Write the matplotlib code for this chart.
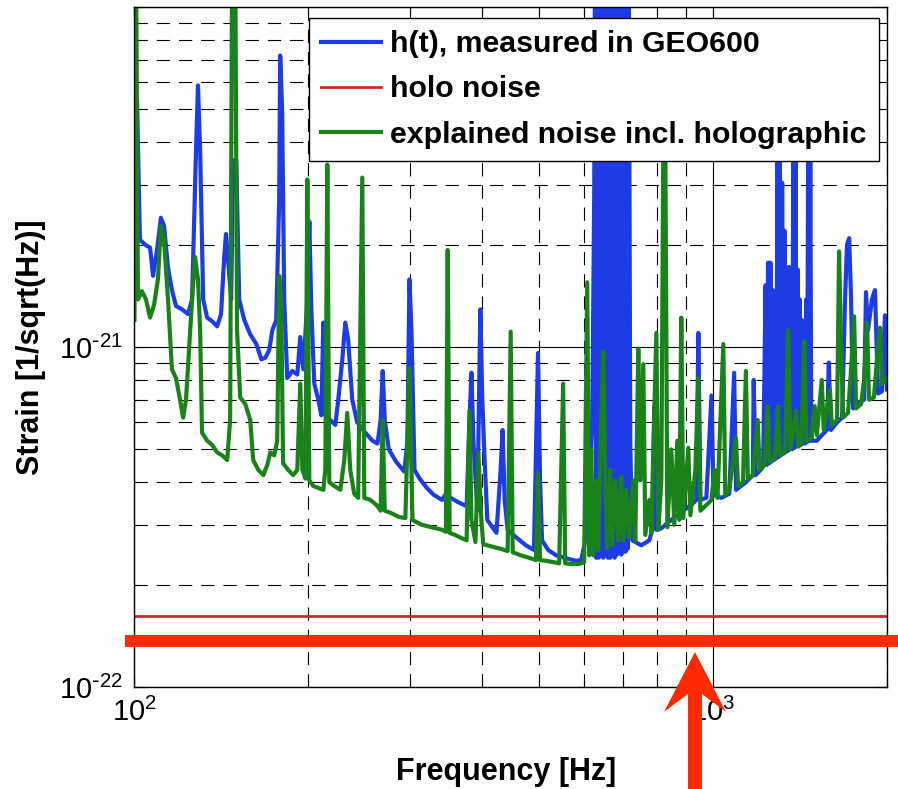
import matplotlib
matplotlib.use("Agg")
import matplotlib.pyplot as plt
from matplotlib.patches import Polygon, Rectangle
from matplotlib.ticker import LogLocator, NullFormatter

# strain values are in units of 1e-22 / sqrt(Hz), frequencies in Hz
STRAIN_UNIT = 1e-22

# h(t), measured in GEO600
blue_freq = [
    100.2, 101.2, 102.4, 104.5, 106.6, 107.9, 109.6, 111.3, 112.7, 114.5,
    116.3, 118.2, 121.1, 124.0, 126.0, 128.0, 129.0, 130.1, 131.7, 133.8,
    136.5, 139.2, 141.4, 143.1, 144.2, 145.4, 147.2, 148.4, 150.2, 152.0,
    155.1, 158.8, 162.7, 166.0, 168.6, 171.3, 173.4, 176.1, 178.2, 178.9,
    180.3, 181.8, 184.0, 187.7, 191.5, 193.8, 196.2, 199.3, 200.9, 202.5,
    204.9, 208.2, 210.7, 212.4, 214.1, 218.4, 222.8, 225.4, 229.1, 231.8,
    234.5, 238.3, 243.1, 251.0, 258.2, 263.5, 266.8, 269.0, 271.2, 275.6,
    283.7, 293.2, 296.8, 299.2, 301.6, 305.3, 311.6, 320.6, 329.8, 340.7,
    345.9, 352.5, 362.8, 375.6, 380.0, 382.9, 385.9, 392.0, 396.7, 399.8,
    403.0, 407.9, 416.1, 423.0, 430.0, 433.4, 437.0, 442.2, 456.8, 475.5,
    491.0, 495.0, 499.0, 503.1, 507.1, 519.5, 536.3, 558.2, 580.8, 592.6,
    602.1, 611.8, 619.1, 624.1,
    626, 629, 632, 635, 638, 641, 644, 647, 650, 653, 656, 659, 662, 665,
    668, 671, 674, 677, 680, 683, 686, 689, 692, 695, 698, 701, 704, 707,
    710, 713, 716,
    720.3, 726.1, 752.6, 777.0, 786.4, 792.7, 799.1, 815.1, 848.1, 882.4,
    918.5, 937.0, 944.4, 952.0, 975.0, 995.0, 1003, 1035, 1068, 1089,
    1097, 1141, 1173, 1177, 1186, 1210,
    1222, 1228, 1234, 1240, 1246, 1252, 1258, 1264, 1270, 1276,
    1282, 1288, 1294, 1300, 1306, 1312, 1318, 1324, 1330, 1336,
    1342, 1348, 1354, 1360, 1366, 1372, 1378, 1384, 1390, 1396,
    1402, 1408, 1414, 1420, 1426, 1432, 1438, 1444, 1450, 1456,
    1462, 1468, 1474, 1480,
    1513, 1543, 1575, 1587, 1600, 1640, 1673, 1693, 1706, 1721,
    1734, 1748, 1797, 1826, 1840, 1855, 1884, 1907, 1930, 1960,
    1984, 2000,
]
blue_strain = [
    20.7, 53.5, 20.7, 20.0, 19.6, 16.2, 19.3, 24.0, 22.7, 17.1,
    14.7, 13.2, 12.9, 12.5, 13.8, 38.0, 58.8, 38.0, 13.8, 12.2,
    11.9, 11.5, 12.5, 18.1, 21.5, 18.1, 13.8, 35.4, 35.4, 13.8,
    12.0, 10.9, 10.2, 9.2, 9.3, 9.8, 11.2, 12.0, 27.1, 72.0,
    49.9, 13.8, 8.1, 8.5, 8.3, 10.7, 8.6, 13.8, 23.4, 12.9,
    7.8, 7.0, 6.3, 11.8, 6.3, 6.1, 5.9, 7.0, 9.2, 11.8,
    10.5, 7.0, 6.0, 5.6, 5.3, 5.2, 6.1, 8.5, 6.1, 5.0,
    4.6, 4.3, 5.3, 15.8, 11.2, 4.35, 4.1, 3.85, 3.67, 3.55,
    3.7, 3.6, 3.5, 3.4, 6.1, 8.4, 5.3, 3.3, 12.9, 7.0,
    4.9, 3.1, 2.95, 2.84, 4.35, 5.7, 3.55, 2.9, 2.76, 2.61,
    2.53, 5.0, 9.6, 4.05, 2.7, 2.53, 2.44, 2.39, 2.35, 2.36,
    2.7, 3.4, 6.1, 28.6,
    150, 2.4, 150, 2.4, 150, 2.45, 150, 2.4, 150, 2.45, 150, 2.4, 150, 2.4,
    150, 2.45, 150, 2.4, 150, 2.45, 150, 2.5, 150, 2.45, 150, 2.5, 150, 2.5,
    150, 2.55, 150,
    5.2, 2.7, 2.61, 2.7, 2.9, 6.7, 2.9, 2.93, 3.1, 3.27,
    3.43, 3.55, 11.0, 3.55, 3.6, 7.2, 3.67, 3.6, 3.7, 8.4,
    3.8, 4.0, 4.2, 8.0, 4.2, 4.35,
    4.45, 8.0, 15.2, 4.5, 17.7, 4.55, 17.7, 4.6, 14.7, 4.65,
    13.0, 4.7, 40.7, 4.75, 40.7, 4.8, 30.4, 4.85, 22.0, 4.9,
    13.8, 4.95, 17.2, 5.0, 15.0, 5.0, 40.7, 5.05, 40.7, 5.1,
    16.9, 5.1, 13.8, 5.15, 12.0, 5.2, 10.5, 5.2, 13.8, 5.25,
    40.7, 5.3, 40.7, 5.3,
    5.3, 5.5, 5.7, 9.0, 5.7, 6.0, 6.2, 13.8, 20.0, 20.9,
    13.8, 6.6, 6.9, 7.0, 14.5, 11.2, 13.8, 14.7, 7.3, 7.4,
    12.4, 7.5,
]

# explained noise incl. holographic
green_freq = [
    100.2, 100.8, 101.6, 103.2, 104.9, 106.6, 108.3, 110.0, 111.3, 112.7,
    114.5, 116.3, 118.2, 120.1, 121.6, 123.0, 124.5, 126.0, 127.5, 129.0,
    130.1, 131.1, 133.8, 136.5, 139.2, 142.0, 144.9, 146.6, 147.8, 149.6,
    150.7, 152.6, 155.7, 158.8, 160.7, 164.0, 167.3, 170.0, 172.0, 174.7,
    176.8, 178.2, 179.6, 181.0, 184.7, 188.4, 191.5, 193.8, 195.4, 197.8,
    199.3, 200.9, 204.1, 208.2, 212.4, 214.1, 215.8, 217.5, 221.9, 227.3,
    230.9, 233.6, 236.4, 240.2, 244.0, 248.0, 250.0, 256.1, 262.5, 266.8,
    269.0, 271.2, 277.9, 287.3, 294.4, 299.2, 302.8, 314.1, 327.2, 340.7,
    345.9, 348.4, 351.1, 358.7, 368.4, 375.6, 380.0, 382.9, 389.0, 393.6,
    398.3, 401.4, 411.2, 430.0, 442.2, 447.6, 451.2, 466.1, 485.1, 495.0,
    499.0, 503.1, 515.3, 530.1, 542.8, 551.5, 555.9, 569.5, 587.7, 599.6,
    606.9, 611.8, 616.7, 621.6, 629.1, 634.1, 641.7, 646.8, 652.0, 657.2,
    665.1, 670.5, 678.4, 686.7, 694.9, 700.5, 708.9, 717.5, 729.0, 734.8,
    743.7, 749.6, 758.6, 764.7, 777.0, 783.3, 789.5, 799.1, 805.4, 815.1,
    821.5, 828.1, 834.7, 848.1, 858.2, 868.5, 875.4, 882.4, 889.5, 907.5,
    914.8, 933.2, 944.4, 952.0, 975.0, 995.0, 1007, 1019, 1043, 1051,
    1068, 1097, 1106, 1128, 1141, 1150, 1173, 1196, 1205, 1229,
    1244, 1254, 1280, 1296, 1306, 1333, 1350, 1361, 1394, 1405,
    1423, 1440, 1452, 1482, 1500, 1513, 1543, 1555, 1594, 1606,
    1640, 1653, 1666, 1680, 1713, 1734, 1755, 1769, 1805, 1826,
    1848, 1862, 1899, 1922, 1945, 1960, 2000,
]
green_strain = [
    12.0, 150, 13.8, 14.6, 13.8, 12.2, 13.3, 15.8, 22.7, 20.7,
    13.8, 8.6, 8.1, 7.0, 6.2, 7.0, 9.8, 13.8, 18.4, 15.8,
    11.2, 5.6, 5.3, 5.15, 4.9, 4.8, 4.65, 6.1, 150, 150,
    11.2, 7.1, 6.8, 6.1, 4.65, 4.35, 4.2, 4.5, 4.9, 4.8,
    5.3, 16.2, 13.8, 4.55, 4.35, 4.2, 4.35, 7.8, 4.35, 4.1,
    31.1, 4.05, 3.9, 3.85, 3.8, 4.35, 34.4, 4.0, 3.9, 3.8,
    4.65, 6.4, 4.35, 3.7, 3.6, 31.5, 3.6, 3.55, 3.43, 3.3,
    6.1, 3.3, 3.25, 3.16, 3.14, 8.7, 3.1, 3.0, 2.95, 2.9,
    2.86, 19.3, 2.84, 2.8, 2.74, 2.7, 6.5, 3.1, 2.67, 4.9,
    3.1, 2.63, 2.6, 2.55, 2.51, 11.1, 2.49, 2.44, 2.39, 2.36,
    4.25, 2.36, 2.35, 2.33, 2.31, 7.8, 2.31, 2.3, 2.3, 2.33,
    15.5, 2.44, 5.0, 2.44, 4.05, 2.53, 6.1, 9.7, 4.05, 2.56,
    4.35, 2.61, 4.05, 2.7, 4.15, 2.7, 3.8, 2.76, 4.05, 2.7,
    9.9, 4.05, 8.9, 2.8, 3.55, 2.84, 5.0, 11.0, 2.9, 4.05,
    40.7, 40.7, 2.95, 5.0, 3.0, 5.3, 3.1, 12.2, 3.14, 5.05,
    3.2, 4.35, 8.1, 3.3, 3.43, 3.55, 4.35, 3.6, 10.2, 3.67,
    3.8, 5.4, 3.9, 4.0, 8.5, 4.1, 4.2, 6.1, 4.35, 4.5,
    6.7, 4.6, 4.7, 6.7, 4.8, 4.9, 11.2, 5.0, 6.5, 5.1,
    5.2, 10.4, 5.3, 5.4, 6.7, 5.5, 8.0, 5.7, 7.5, 5.9,
    6.1, 19.1, 10.3, 6.2, 6.4, 8.6, 12.3, 6.6, 6.8, 8.0,
    11.8, 7.0, 7.1, 9.2, 11.4, 7.8, 8.1,
]

# holo noise (flat)
holo_freq = [100, 2000]
holo_strain = [1.62, 1.62]

labels = ["h(t), measured in GEO600", "holo noise",
          "explained noise incl. holographic"]


def main():
    plt.rcParams["font.family"] = ["Liberation Sans", "DejaVu Sans"]

    fig = plt.figure(figsize=(8.98, 7.89), dpi=100)
    ax = fig.add_axes([0.1492, 0.1293, 0.8385, 0.8618])

    ax.loglog(blue_freq, [v * STRAIN_UNIT for v in blue_strain],
              color="#1e3ce6", lw=3.0, label=labels[0])
    ax.loglog(holo_freq, [v * STRAIN_UNIT for v in holo_strain],
              color="#d02828", lw=2.0, label=labels[1])
    ax.loglog(green_freq, [v * STRAIN_UNIT for v in green_strain],
              color="#1a821a", lw=3.0, label=labels[2])

    ax.set_xlim(100, 2000)
    ax.set_ylim(1e-22, 1e-20)
    ax.set_xticks([100, 1000],
                  labels=[r"$\mathdefault{10^{2}}$", r"$\mathdefault{10^{3}}$"])
    ax.set_yticks([1e-22, 1e-21, 1e-20],
                  labels=[r"$\mathdefault{10^{\text{-}22}}$",
                          r"$\mathdefault{10^{\text{-}21}}$", ""])
    for axis in (ax.xaxis, ax.yaxis):
        axis.set_minor_locator(LogLocator(base=10, subs=range(2, 10)))
        axis.set_minor_formatter(NullFormatter())

    ax.grid(which="major", color="k", lw=0.8, ls="-")
    ax.grid(which="minor", color="k", lw=0.8, ls=(0, (12, 8)))
    ax.set_axisbelow(True)

    ax.tick_params(which="both", direction="in", top=True, right=True,
                   labelsize=21, pad=8, width=0.8, color="k")
    ax.tick_params(which="major", length=8)
    ax.tick_params(which="minor", length=5)
    for sp in ax.spines.values():
        sp.set_linewidth(1.0)
        sp.set_color("k")

    ax.set_xlabel("Frequency [Hz]", fontsize=22, fontweight="bold")
    ax.set_ylabel("Strain [1/sqrt(Hz)]", fontsize=22, fontweight="bold")
    ax.xaxis.set_label_coords(0.494, -0.103)
    ax.yaxis.set_label_coords(-0.117, 0.5)

    leg = ax.legend(loc="upper right", bbox_to_anchor=(0.9894, 0.9838),
                    borderaxespad=0, fancybox=False, edgecolor="k",
                    framealpha=1, handlelength=2.0, handletextpad=0.3,
                    labelspacing=0.57, borderpad=0.4,
                    prop={"weight": "bold", "size": 21.8})
    leg.get_frame().set_linewidth(1.0)

    # red marker bar and arrow drawn over the figure
    fig.add_artist(Rectangle((0.1392, 0.1800), 0.8608, 0.0152,
                             transform=fig.transFigure, color="#ff2a00",
                             lw=0, zorder=10))
    arrow_pts = [(0.7739, 0.1736), (0.8085, 0.0976), (0.7817, 0.1204),
                 (0.7817, -0.01), (0.7661, -0.01), (0.7661, 0.1204),
                 (0.7394, 0.0976)]
    fig.add_artist(Polygon(arrow_pts, closed=True, transform=fig.transFigure,
                           color="#ff2a00", lw=0, zorder=10))

    fig.savefig("out.png", dpi=100)


if __name__ == "__main__":
    main()
